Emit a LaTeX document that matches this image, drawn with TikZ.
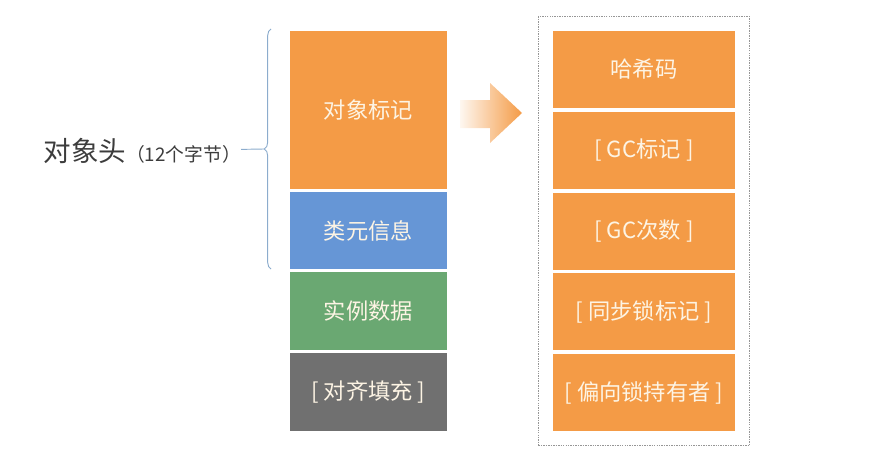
\documentclass[tikz,border=0pt]{standalone}
\usepackage{fontspec}
\setmainfont{Noto Sans CJK SC}
\usetikzlibrary{decorations.pathreplacing, fit}

\definecolor{boxorange}{RGB}{244,155,70}
\definecolor{boxblue}{RGB}{102,150,214}
\definecolor{boxgreen}{RGB}{106,168,114}
\definecolor{boxgray}{RGB}{112,112,112}
\definecolor{boxtext}{RGB}{253,244,228}
\definecolor{framegray}{RGB}{150,150,150}
\definecolor{bracecol}{RGB}{140,172,205}
\definecolor{labelgray}{RGB}{60,60,60}

\begin{document}
\begin{tikzpicture}[x=0.3mm, y=-0.3mm,
		field/.style={rectangle, inner sep=0pt, minimum width=47.1mm, minimum height=23.3mm, text=boxtext, font=\fontsize{19}{22}\selectfont},
		markfield/.style={field, fill=boxorange, minimum width=54.6mm, minimum height=23.1mm},
		frame/.style={draw=framegray, dash pattern=on 1.2pt off 0.9pt, line width=0.8pt, inner sep=4.3mm},
		brace_line/.style={draw=bracecol, line width=0.8pt}
		]
		\useasboundingbox (0,0) rectangle (880,466);
		
		% Object layout
		\node[field, fill=boxorange, minimum height=47.4mm] (markword) at (368.5,110) {对象标记};
		\node[field, fill=boxblue] (klass) at (368.5,230.5) {类元信息};
		\node[field, fill=boxgreen] (data) at (368.5,311) {实例数据};
		\node[field, fill=boxgray] (padding) at (368.5,392) {[ 对齐填充 ]};
		
		% Header brace
		\coordinate (hdtop) at (271,29);
		\coordinate (hdbot) at (271,269);
		\coordinate (tip) at (264,149);
		\draw[brace_line, decorate, decoration={brace, amplitude=2mm}] (hdbot) -- (hdtop);
		\node[anchor=east, inner sep=0pt, text=labelgray] (hdr) at (241,151) {{\fontsize{23.5}{27}\selectfont 对象头}{\fontsize{16}{19}\selectfont （12个字节）}};
		\draw[brace_line] (hdr) -- (tip);
		
		% Arrow
		\shade[left color=boxorange!8, right color=boxorange] (460,100) -- (490,100) -- (490,83) -- (522,113) -- (490,143) -- (490,128) -- (460,128) -- cycle;
		
		% Mark word
		\node[markfield] (hash) at (644,69.5) {哈希码};
		\node[markfield] (gcmark) at (644,150.5) {[ GC标记 ]};
		\node[markfield] (gcage) at (644,231.5) {[ GC次数 ]};
		\node[markfield] (lockmark) at (644,311.5) {[ 同步锁标记 ]};
		\node[markfield] (biasowner) at (644,392.5) {[ 偏向锁持有者 ]};
		\node[frame, fit=(hash)(biasowner)] (body) {};
	\end{tikzpicture}
\end{document}
